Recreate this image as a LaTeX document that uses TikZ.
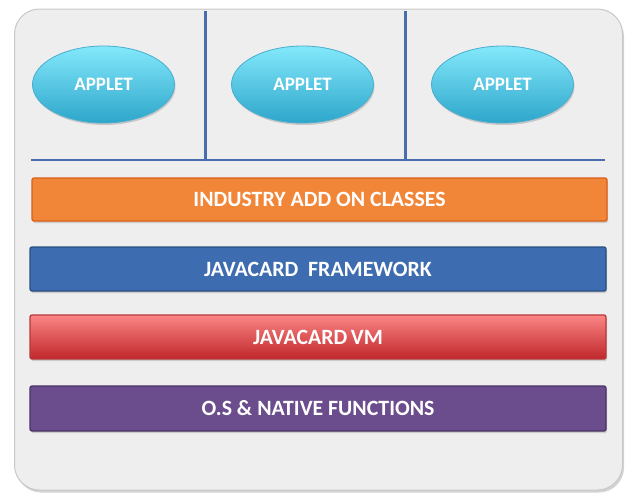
\documentclass[tikz,border=0pt]{standalone}
\usepackage{fontspec}
\setmainfont{Carlito}
\usetikzlibrary{shadows,shapes.geometric}
\definecolor{bgfill}{HTML}{EEEEEE}
\definecolor{bgline}{HTML}{C8C8C8}
\definecolor{sepline}{HTML}{4A6DAE}
\definecolor{appTop}{HTML}{84E8FB}
\definecolor{appBot}{HTML}{2DA6CB}
\definecolor{appLine}{HTML}{48AED0}
\definecolor{orFill}{HTML}{F28638}
\definecolor{orLine}{HTML}{DA5F17}
\definecolor{blFill}{HTML}{3D6CB0}
\definecolor{blLine}{HTML}{294D82}
\definecolor{rdTop}{HTML}{FB8585}
\definecolor{rdBot}{HTML}{C0272B}
\definecolor{rdLine}{HTML}{B8383B}
\definecolor{puFill}{HTML}{6B4C8C}
\definecolor{puLine}{HTML}{4A3366}
\tikzset{
  applet/.style={ellipse, minimum width=142pt, minimum height=77pt, inner sep=0pt,
    top color=appTop, bottom color=appBot, draw=appLine, line width=0.8pt,
    drop shadow={shadow xshift=1pt, shadow yshift=-2pt, opacity=0.35},
    text=white, font=\bfseries\fontsize{19}{19}\selectfont},
  layer/.style={rectangle, rounded corners=2pt, minimum width=575pt, minimum height=43pt,
    inner sep=0pt, line width=1.3pt, text=white, font=\bfseries\fontsize{21.8}{21.8}\selectfont,
    drop shadow={shadow xshift=1pt, shadow yshift=-2pt, opacity=0.3}},
  sep/.style={draw=sepline, line width=2.6pt}
}
\begin{document}
\begin{tikzpicture}[x=1pt,y=-1pt]
\useasboundingbox (0,0) rectangle (625,498);
\node[draw=bgline, fill=bgfill, rounded corners=25pt, line width=1pt,
  minimum width=608pt, minimum height=481pt, inner sep=0pt,
  drop shadow={shadow xshift=1.5pt, shadow yshift=-2.5pt, opacity=0.35}] (frame) at (318.5,249.5) {};
\coordinate (v1t) at (205.5,11);
\coordinate (v1b) at (205.5,160);
\coordinate (v2t) at (405.5,11);
\coordinate (v2b) at (405.5,160);
\coordinate (hl) at (31,160);
\coordinate (hr) at (605,160);
\draw[sep] (v1t) -- (v1b);
\draw[sep] (v2t) -- (v2b);
\draw[sep] (hl) -- (hr);
\node[applet] (a1) at (103.5,84.5) {APPLET};
\node[applet] (a2) at (302.5,84.5) {APPLET};
\node[applet] (a3) at (502.5,84.5) {APPLET};
\node[layer, fill=orFill, draw=orLine] (ind) at (319.5,199.5) {INDUSTRY ADD ON CLASSES};
\node[layer, fill=blFill, draw=blLine, minimum width=576pt, minimum height=44pt] (fw) at (318,269) {JAVACARD\ \ FRAMEWORK};
\node[layer, top color=rdTop, bottom color=rdBot, draw=rdLine, minimum width=576pt, minimum height=44pt] (vm) at (318,337) {JAVACARD\kern3.5pt VM};
\node[layer, fill=puFill, draw=puLine, minimum width=576pt, minimum height=45pt] (os) at (318,408.5) {O.S \& NATIVE FUNCTIONS};
\end{tikzpicture}
\end{document}
